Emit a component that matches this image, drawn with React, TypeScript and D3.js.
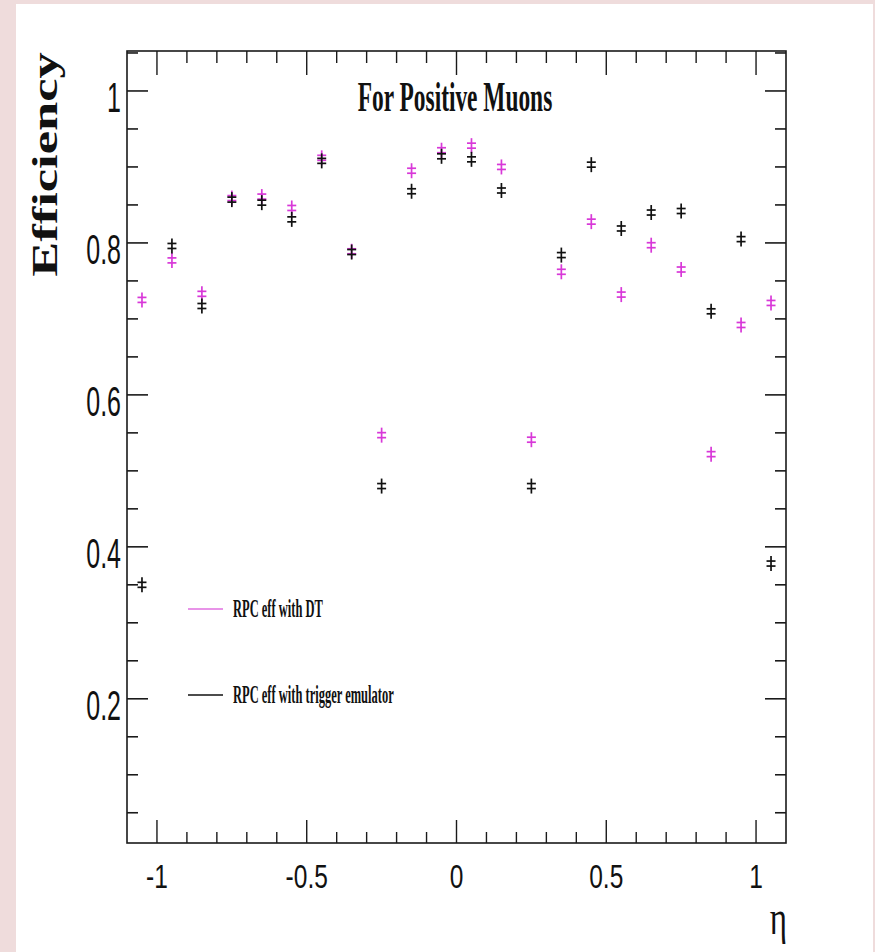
import React from "react";
import * as d3 from "d3";

const etaBins = [-1.05, -0.95, -0.85, -0.75, -0.65, -0.55, -0.45, -0.35, -0.25, -0.15, -0.05, 0.05, 0.15, 0.25, 0.35, 0.45, 0.55, 0.65, 0.75, 0.85, 0.95, 1.05];
const effDT = [0.725, 0.777, 0.733, 0.859, 0.861, 0.846, 0.912, 0.789, 0.547, 0.895, 0.922, 0.928, 0.900, 0.541, 0.762, 0.828, 0.732, 0.797, 0.765, 0.522, 0.692, 0.721];
const effTrig = [0.350, 0.796, 0.717, 0.857, 0.853, 0.831, 0.908, 0.788, 0.480, 0.868, 0.914, 0.910, 0.869, 0.480, 0.784, 0.903, 0.819, 0.840, 0.842, 0.710, 0.805, 0.378];
const xMajorTicks = [-1, -0.5, 0, 0.5, 1];
const xTickLabels = ["-1", "-0.5", "0", "0.5", "1"];
const yMajorTicks = [0.2, 0.4, 0.6, 0.8, 1];
const yTickLabels = ["0.2", "0.4", "0.6", "0.8", "1"];
const seriesNames = ["RPC eff with DT", "RPC eff with trigger emulator"];
const title = "For Positive Muons";
const yTitle = "Efficiency";
const xTitle = "η";

const W = 875, H = 952;
const L = 127, R = 786, T = 51, B = 843;
const MAG = "#d838d8";

export default function App() {
  const x = d3.scaleLinear().domain([-1.1, 1.1]).range([L, R]);
  const y = d3.scaleLinear().domain([0.0102, 1.0526]).range([B, T]);

  const xMinor = d3.range(-10, 11).map((i) => i / 10).filter((v) => !xMajorTicks.some((m) => Math.abs(m - v) < 1e-9));
  const yMinor = d3.range(1, 22).map((i) => i * 0.05).filter((v) => !yMajorTicks.some((m) => Math.abs(m - v) < 1e-9));

  const marker = (cx: number, cy: number, color: string, key: string) => (
    <g key={key} stroke={color} strokeWidth={1.7} fill="none">
      <line x1={cx} x2={cx} y1={cy - 7.5} y2={cy + 7.5} />
      <line x1={cx - 4.5} x2={cx + 4.5} y1={cy - 2.5} y2={cy - 2.5} />
      <line x1={cx - 4.5} x2={cx + 4.5} y1={cy + 2.5} y2={cy + 2.5} />
    </g>
  );

  return (
    <svg width={W} height={H} style={{ position: "absolute", left: 0, top: 0 }}>
      <rect x={0} y={0} width={W} height={H} fill="#efdcdc" />
      <rect x={16} y={4} width={857} height={H - 4} fill="#ffffff" />

      <rect x={L} y={T} width={R - L} height={B - T} fill="none" stroke="#1a1a1a" strokeWidth={1.6} />

      {xMajorTicks.map((v) => (
        <g key={"xm" + v} stroke="#1a1a1a" strokeWidth={1.4}>
          <line x1={x(v)} x2={x(v)} y1={B} y2={B - 23} />
          <line x1={x(v)} x2={x(v)} y1={T} y2={T + 24} />
        </g>
      ))}
      {xMinor.map((v) => (
        <g key={"xn" + v} stroke="#1a1a1a" strokeWidth={1.4}>
          <line x1={x(v)} x2={x(v)} y1={B} y2={B - 11} />
          <line x1={x(v)} x2={x(v)} y1={T} y2={T + 12} />
        </g>
      ))}
      {yMajorTicks.map((v) => (
        <g key={"ym" + v} stroke="#1a1a1a" strokeWidth={1.6}>
          <line x1={L} x2={L + 21} y1={y(v)} y2={y(v)} />
          <line x1={R} x2={R - 21} y1={y(v)} y2={y(v)} />
        </g>
      ))}
      {yMinor.map((v) => (
        <g key={"yn" + v} stroke="#1a1a1a" strokeWidth={1.6}>
          <line x1={L} x2={L + 11} y1={y(v)} y2={y(v)} />
          <line x1={R} x2={R - 11} y1={y(v)} y2={y(v)} />
        </g>
      ))}

      {yMajorTicks.map((v, i) => (
        <text key={"yl" + v} transform={`translate(121,${y(v) + 21}) scale(1,1.68)`} textAnchor="end"
          fontFamily="Liberation Sans, Arial, sans-serif" fontSize={25} fill="#111">{yTickLabels[i]}</text>
      ))}
      {xMajorTicks.map((v, i) => (
        <text key={"xl" + v} transform={`translate(${x(v)},888) scale(1,1.37)`} textAnchor="middle"
          fontFamily="Liberation Sans, Arial, sans-serif" fontSize={24.5} fill="#111">{xTickLabels[i]}</text>
      ))}

      <text transform={`translate(57,164.5) rotate(-90) scale(1.5,1)`} textAnchor="middle"
        fontFamily="Liberation Serif, Times New Roman, serif" fontWeight="bold" fontSize={35} fill="#111">{yTitle}</text>
      <text transform={`translate(787,934) scale(1,1.5)`} textAnchor="end"
        fontFamily="Liberation Serif, Times New Roman, serif" fontSize={33} fill="#111">{xTitle}</text>

      <text transform={`translate(455,111) scale(1,1.78)`} textAnchor="middle"
        fontFamily="Liberation Serif, Times New Roman, serif" fontWeight="bold" fontSize={23.4} fill="#111">{title}</text>

      <line x1={188} x2={223} y1={609} y2={609} stroke="#e070e0" strokeWidth={1.5} />
      <text transform={`translate(233,617) scale(1,1.95)`} fontFamily="Liberation Serif, Times New Roman, serif"
        fontWeight="bold" fontSize={12.5} fill="#111">{seriesNames[0]}</text>
      <line x1={188} x2={223} y1={695} y2={695} stroke="#111" strokeWidth={1.5} />
      <text transform={`translate(233,703) scale(1,1.95)`} fontFamily="Liberation Serif, Times New Roman, serif"
        fontWeight="bold" fontSize={12.5} fill="#111">{seriesNames[1]}</text>

      {etaBins.map((e, i) => marker(x(e), y(effDT[i]), MAG, "dt" + i))}
      {etaBins.map((e, i) => marker(x(e), y(effTrig[i]), "#111", "tr" + i))}
    </svg>
  );
}
